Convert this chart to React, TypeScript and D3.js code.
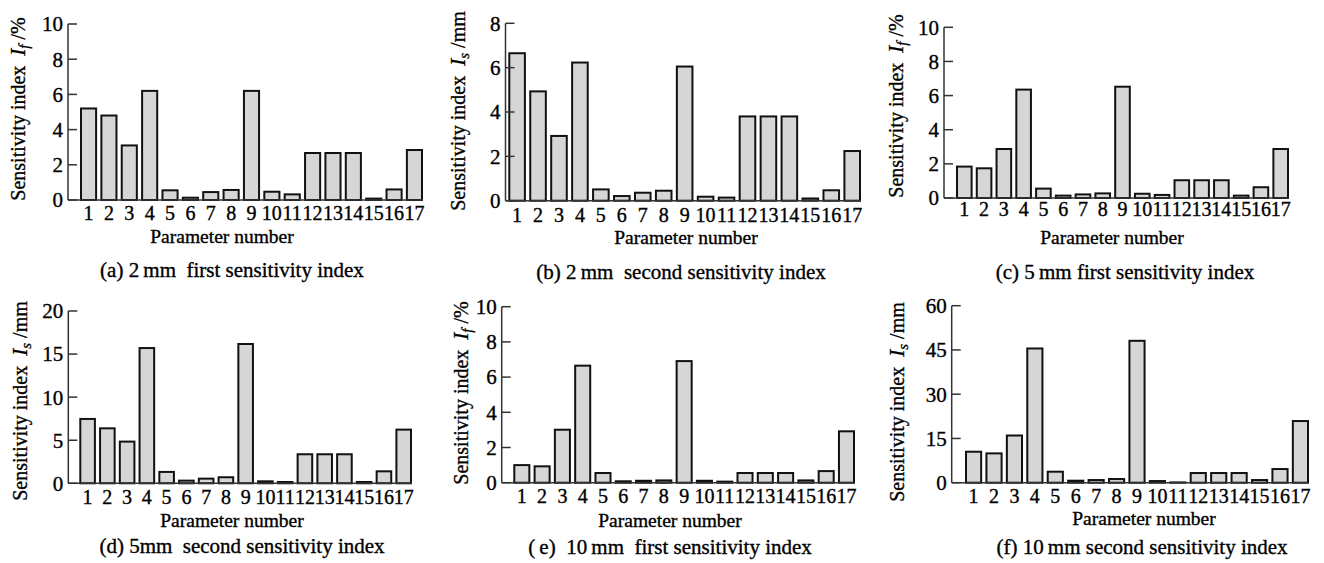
import React from 'react';
import * as d3 from 'd3';

// parameter numbers on the x axis
const paramLabels = ['1', '2', '3', '4', '5', '6', '7', '8', '9', '10', '11', '12', '13', '14', '15', '16', '17'];

// values
const valsA = [5.2, 4.8, 3.1, 6.2, 0.55, 0.13, 0.45, 0.57, 6.2, 0.47, 0.32, 2.67, 2.67, 2.67, 0.08, 0.6, 2.84];
const valsB = [6.65, 4.93, 2.92, 6.23, 0.51, 0.21, 0.36, 0.45, 6.05, 0.18, 0.14, 3.8, 3.8, 3.8, 0.1, 0.47, 2.24];
const valsC = [1.84, 1.74, 2.87, 6.35, 0.55, 0.14, 0.21, 0.27, 6.52, 0.25, 0.18, 1.04, 1.04, 1.04, 0.14, 0.63, 2.87];
const valsD = [7.47, 6.38, 4.84, 15.7, 1.32, 0.31, 0.54, 0.7, 16.17, 0.23, 0.15, 3.37, 3.37, 3.37, 0.15, 1.39, 6.23];
const valsE = [1.0, 0.93, 3.01, 6.65, 0.55, 0.08, 0.11, 0.13, 6.91, 0.11, 0.06, 0.55, 0.55, 0.55, 0.13, 0.66, 2.92];
const valsF = [10.5, 9.94, 16.0, 45.5, 3.73, 0.68, 0.9, 1.24, 48.1, 0.56, 0.1, 3.28, 3.28, 3.28, 0.9, 4.63, 20.9];

const ticksA = [0, 2, 4, 6, 8, 10];
const ticksB = [0, 2, 4, 6, 8];
const ticksC = [0, 2, 4, 6, 8, 10];
const ticksD = [0, 5, 10, 15, 20];
const ticksE = [0, 2, 4, 6, 8, 10];
const ticksF = [0, 15, 30, 45, 60];

const captions = [
  '(a) 2\u2009mm\u00a0\u00a0first sensitivity index',
  '(b) 2\u2009mm\u00a0\u00a0second sensitivity index',
  '(c) 5\u2009mm first sensitivity index',
  '(d) 5mm\u00a0\u00a0second sensitivity index',
  '(\u2009e)\u00a0\u00a010\u2009mm\u00a0\u00a0first sensitivity index',
  '(f) 10\u2009mm second sensitivity index',
];
const yUnits = ['f', 's', 'f', 's', 'f', 's'];
const yUnitSuffix = ['/%', '/mm', '/%', '/mm', '/%', '/mm'];

const FONT = "'Liberation Serif', 'Times New Roman', Times, serif";

type Layout = {
  axisX: number; yTop: number; y0: number; barL: number; barR: number;
  tickDy: number; xLabX: number; xLabY: number; capX: number; capY: number;
  yLabX: number; yLabY: number;
};

const layouts: Layout[] = [
  { axisX: 68, yTop: 24, y0: 200, barL: 80, barR: 423, tickDy: 20, xLabX: 222, xLabY: 243, capX: 232, capY: 277, yLabX: 25, yLabY: 109 },
  { axisX: 505.5, yTop: 23.3, y0: 200.7, barL: 508.3, barR: 861, tickDy: 21, xLabX: 686, xLabY: 244, capX: 681, capY: 279, yLabX: 465, yLabY: 111 },
  { axisX: 944, yTop: 27.3, y0: 198, barL: 956, barR: 1289, tickDy: 17.5, xLabX: 1112, xLabY: 244, capX: 1125, capY: 279, yLabX: 903, yLabY: 106 },
  { axisX: 68.3, yTop: 311, y0: 483.3, barL: 79.3, barR: 412, tickDy: 21, xLabX: 232, xLabY: 526.5, capX: 242, capY: 553, yLabX: 26.5, yLabY: 401 },
  { axisX: 501.7, yTop: 306.7, y0: 482.7, barL: 513.3, barR: 855, tickDy: 20.5, xLabX: 670, xLabY: 526.5, capX: 670, capY: 554, yLabX: 468, yLabY: 393 },
  { axisX: 951.7, yTop: 305.7, y0: 482.7, barL: 965, barR: 1309, tickDy: 20.5, xLabX: 1144, xLabY: 525, capX: 1142, capY: 554, yLabX: 904, yLabY: 402 },
];

const Panel = ({ values, ticks, lay, caption, sub, suffix }: {
  values: number[]; ticks: number[]; lay: Layout; caption: string; sub: string; suffix: string;
}) => {
  const x = d3.scaleBand<string>()
    .domain(paramLabels)
    .range([lay.barL, lay.barR])
    .paddingInner(0.16)
    .paddingOuter(0);
  const y = d3.scaleLinear()
    .domain([0, ticks[ticks.length - 1]])
    .range([lay.y0, lay.yTop]);

  return (
    <g style={{ fontFamily: FONT }}>
      {/* bars */}
      {values.map((v, i) => (
        <rect
          key={i}
          x={x(paramLabels[i])! + 1}
          y={y(v)}
          width={x.bandwidth() - 2}
          height={Math.max(0, y(0) - y(v))}
          fill="#d6d6d6"
          stroke="#111"
          strokeWidth={2}
        />
      ))}
      {/* axes */}
      <line x1={lay.axisX} x2={lay.axisX} y1={y(0)} y2={y(ticks[ticks.length - 1])} stroke="#333" strokeWidth={1.5} />
      <line x1={lay.axisX} x2={lay.barR} y1={y(0)} y2={y(0)} stroke="#333" strokeWidth={1.5} />
      <g fill="#000" stroke="#000" strokeWidth={0.35}>
        {ticks.map(t => (
          <g key={t}>
            <line x1={lay.axisX} x2={lay.axisX + 9} y1={y(t)} y2={y(t)} stroke="#333" strokeWidth={1.5} />
            <text x={lay.axisX - 5} y={y(t)} dy="0.35em" textAnchor="end" fontSize={21}>{t}</text>
          </g>
        ))}
        {paramLabels.map(p => (
          <text key={p} x={x(p)! + x.bandwidth() / 2} y={lay.y0 + lay.tickDy} textAnchor="middle" fontSize={20}>{p}</text>
        ))}
        <text x={lay.xLabX} y={lay.xLabY} textAnchor="middle" fontSize={19.5}>Parameter number</text>
        <text x={lay.capX} y={lay.capY} textAnchor="middle" fontSize={21}>{caption}</text>
        <text transform={`translate(${lay.yLabX},${lay.yLabY}) rotate(-90)`} textAnchor="middle" fontSize={20}>
          {'Sensitivity index\u00a0\u00a0'}
          <tspan fontStyle="italic" fontSize={21}>I</tspan>
          <tspan fontStyle="italic" fontSize={15} dy={4}>{sub}</tspan>
          <tspan dy={-4}>{'\u00a0' + suffix}</tspan>
        </text>
      </g>
    </g>
  );
};

export default function App() {
  const allVals = [valsA, valsB, valsC, valsD, valsE, valsF];
  const allTicks = [ticksA, ticksB, ticksC, ticksD, ticksE, ticksF];
  return (
    <svg width={1324} height={563} style={{ position: 'absolute', left: 0, top: 0, background: '#fff' }}>
      <rect width={1324} height={563} fill="#fff" />
      {allVals.map((v, i) => (
        <Panel key={i} values={v} ticks={allTicks[i]} lay={layouts[i]} caption={captions[i]} sub={yUnits[i]} suffix={yUnitSuffix[i]} />
      ))}
    </svg>
  );
}
